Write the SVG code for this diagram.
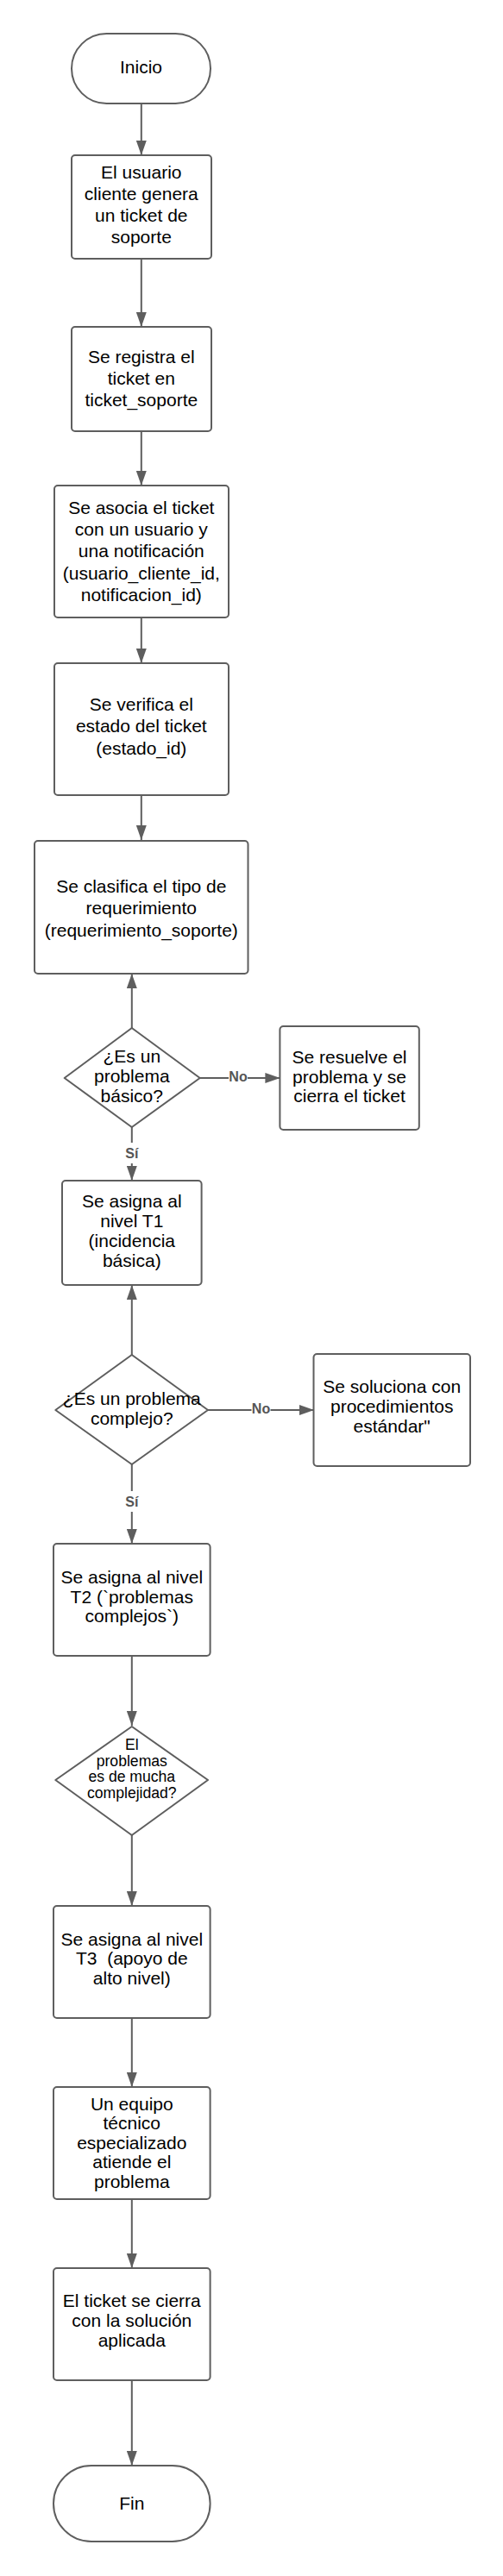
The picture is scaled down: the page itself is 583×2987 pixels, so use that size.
<svg xmlns="http://www.w3.org/2000/svg" width="583" height="2987" viewBox="0 0 583 2987">
<style>
.n{fill:#fff;stroke:#5e5e5e;stroke-width:2;stroke-linejoin:round}
.t{font-family:"Liberation Sans",Arial,sans-serif;font-size:21px;fill:#000;text-anchor:middle;white-space:pre}
.s{font-size:17.6px}
.c{stroke:#5e5e5e;stroke-width:2;fill:none}
.lb{font-family:"Liberation Sans",Arial,sans-serif;font-size:16px;font-weight:bold;fill:#555;text-anchor:middle}
</style>
<defs>
<marker id="ar" markerUnits="userSpaceOnUse" markerWidth="17" markerHeight="12" refX="17" refY="6" orient="auto">
<path d="M0,0 L17,6 L0,12 z" fill="#5e5e5e"/>
</marker>
</defs>
<rect width="583" height="2987" fill="#fff"/>
<g id="connectors">
<line class="c" x1="163.8" y1="120" x2="163.8" y2="180" marker-end="url(#ar)"/>
<line class="c" x1="163.8" y1="300" x2="163.8" y2="379" marker-end="url(#ar)"/>
<line class="c" x1="163.8" y1="500" x2="163.8" y2="563" marker-end="url(#ar)"/>
<line class="c" x1="163.8" y1="716" x2="163.8" y2="769" marker-end="url(#ar)"/>
<line class="c" x1="163.8" y1="922" x2="163.8" y2="974" marker-end="url(#ar)"/>
<line class="c" x1="152.8" y1="1192" x2="152.8" y2="1129" marker-end="url(#ar)"/>
<line class="c" x1="231.7" y1="1250" x2="324.4" y2="1250" marker-end="url(#ar)"/>
<line class="c" x1="152.8" y1="1307" x2="152.8" y2="1369" marker-end="url(#ar)"/>
<line class="c" x1="152.8" y1="1571" x2="152.8" y2="1490" marker-end="url(#ar)"/>
<line class="c" x1="241" y1="1635" x2="364" y2="1635" marker-end="url(#ar)"/>
<line class="c" x1="152.8" y1="1698" x2="152.8" y2="1790" marker-end="url(#ar)"/>
<line class="c" x1="152.8" y1="1920" x2="152.8" y2="2001" marker-end="url(#ar)"/>
<line class="c" x1="152.8" y1="2128" x2="152.8" y2="2210" marker-end="url(#ar)"/>
<line class="c" x1="152.8" y1="2340" x2="152.8" y2="2420" marker-end="url(#ar)"/>
<line class="c" x1="152.8" y1="2550" x2="152.8" y2="2630" marker-end="url(#ar)"/>
<line class="c" x1="152.8" y1="2760" x2="152.8" y2="2859" marker-end="url(#ar)"/>
<rect x="265" y="1241" width="22" height="17" fill="#fff"/>
<text class="lb" x="276" y="1253.5">No</text>
<rect x="291.5" y="1626" width="22" height="17" fill="#fff"/>
<text class="lb" x="302.5" y="1638.5">No</text>
<rect x="142" y="1325" width="22" height="24" fill="#fff"/>
<text class="lb" x="152.8" y="1342.5">Sí</text>
<rect x="142" y="1729" width="22" height="24" fill="#fff"/>
<text class="lb" x="152.8" y="1746.5">Sí</text>
</g>
<g id="inicio">
<rect class="n" x="83" y="39" width="161" height="81" rx="40.5"/>
<text class="t" x="163.5" y="84.5">Inicio</text>
</g>
<g id="genera">
<rect class="n" x="83" y="180" width="162" height="120" rx="4"/>
<text class="t"><tspan x="163.8" y="206.5">El usuario</tspan><tspan x="163.8" y="231.8">cliente genera</tspan><tspan x="163.8" y="257.1">un ticket de</tspan><tspan x="163.8" y="282.4">soporte</tspan></text>
</g>
<g id="registra">
<rect class="n" x="83" y="379" width="162" height="121" rx="4"/>
<text class="t"><tspan x="163.8" y="420.5">Se registra el</tspan><tspan x="163.8" y="445.5">ticket en</tspan><tspan x="163.8" y="470.5">ticket_soporte</tspan></text>
</g>
<g id="asocia">
<rect class="n" x="63" y="563" width="202" height="153" rx="4"/>
<text class="t"><tspan x="163.8" y="595.5">Se asocia el ticket</tspan><tspan x="163.8" y="620.9">con un usuario y</tspan><tspan x="163.8" y="646.3">una notificación</tspan><tspan x="163.8" y="671.7">(usuario_cliente_id,</tspan><tspan x="163.8" y="697.1">notificacion_id)</tspan></text>
</g>
<g id="verifica">
<rect class="n" x="63" y="769" width="202" height="153" rx="4"/>
<text class="t"><tspan x="163.8" y="823.5">Se verifica el</tspan><tspan x="163.8" y="849">estado del ticket</tspan><tspan x="163.8" y="874.5">(estado_id)</tspan></text>
</g>
<g id="clasifica">
<rect class="n" x="40" y="975" width="247.5" height="154" rx="4"/>
<text class="t"><tspan x="163.8" y="1034.5">Se clasifica el tipo de</tspan><tspan x="163.8" y="1060">requerimiento</tspan><tspan x="163.8" y="1085.5">(requerimiento_soporte)</tspan></text>
</g>
<g id="basico">
<polygon class="n" points="152.8,1192 231.7,1250 152.8,1307 74.7,1250"/>
<text class="t"><tspan x="152.8" y="1231.5">¿Es un</tspan><tspan x="152.8" y="1254.5">problema</tspan><tspan x="152.8" y="1277.5">básico?</tspan></text>
</g>
<g id="resuelve">
<rect class="n" x="324.4" y="1190" width="161.4" height="120" rx="4"/>
<text class="t"><tspan x="405" y="1233">Se resuelve el</tspan><tspan x="405" y="1255.5">problema y se</tspan><tspan x="405" y="1278">cierra el ticket</tspan></text>
</g>
<g id="t1">
<rect class="n" x="72" y="1369" width="161.6" height="121" rx="4"/>
<text class="t"><tspan x="152.8" y="1399.5">Se asigna al</tspan><tspan x="152.8" y="1422.5">nivel T1</tspan><tspan x="152.8" y="1445.5">(incidencia</tspan><tspan x="152.8" y="1468.5">básica)</tspan></text>
</g>
<g id="complejo">
<polygon class="n" points="152.8,1571 241,1635 152.8,1698 64.3,1635"/>
<text class="t"><tspan x="152.8" y="1628.5">¿Es un problema</tspan><tspan x="152.8" y="1651.5">complejo?</tspan></text>
</g>
<g id="soluciona">
<rect class="n" x="363.5" y="1570" width="181.5" height="130" rx="4"/>
<text class="t"><tspan x="454.2" y="1614.5">Se soluciona con</tspan><tspan x="454.2" y="1637.5">procedimientos</tspan><tspan x="454.2" y="1660.5">estándar"</tspan></text>
</g>
<g id="t2">
<rect class="n" x="62" y="1790" width="181.6" height="130" rx="4"/>
<text class="t"><tspan x="152.8" y="1835.5">Se asigna al nivel</tspan><tspan x="152.8" y="1858.5">T2 (`problemas</tspan><tspan x="152.8" y="1881">complejos`)</tspan></text>
</g>
<g id="mucha">
<polygon class="n" points="152.8,2002 241,2064 152.8,2128 64.3,2064"/>
<text class="t s"><tspan x="152.8" y="2028.5">El</tspan><tspan x="152.8" y="2047.5">problemas</tspan><tspan x="152.8" y="2066">es de mucha</tspan><tspan x="152.8" y="2085">complejidad?</tspan></text>
</g>
<g id="t3">
<rect class="n" x="62" y="2210" width="181.6" height="130" rx="4"/>
<text class="t"><tspan x="152.8" y="2255.5">Se asigna al nivel</tspan><tspan x="152.8" y="2278">T3  (apoyo de</tspan><tspan x="152.8" y="2300.5">alto nivel)</tspan></text>
</g>
<g id="equipo">
<rect class="n" x="62" y="2420" width="181.6" height="130" rx="4"/>
<text class="t"><tspan x="152.8" y="2446.5">Un equipo</tspan><tspan x="152.8" y="2469">técnico</tspan><tspan x="152.8" y="2491.5">especializado</tspan><tspan x="152.8" y="2514">atiende el</tspan><tspan x="152.8" y="2537">problema</tspan></text>
</g>
<g id="cierra">
<rect class="n" x="62" y="2630" width="181.6" height="130" rx="4"/>
<text class="t"><tspan x="152.8" y="2674.5">El ticket se cierra</tspan><tspan x="152.8" y="2697.5">con la solución</tspan><tspan x="152.8" y="2720.5">aplicada</tspan></text>
</g>
<g id="fin">
<rect class="n" x="62" y="2859" width="181.6" height="88" rx="44"/>
<text class="t" x="152.8" y="2909.5">Fin</text>
</g>
</svg>
